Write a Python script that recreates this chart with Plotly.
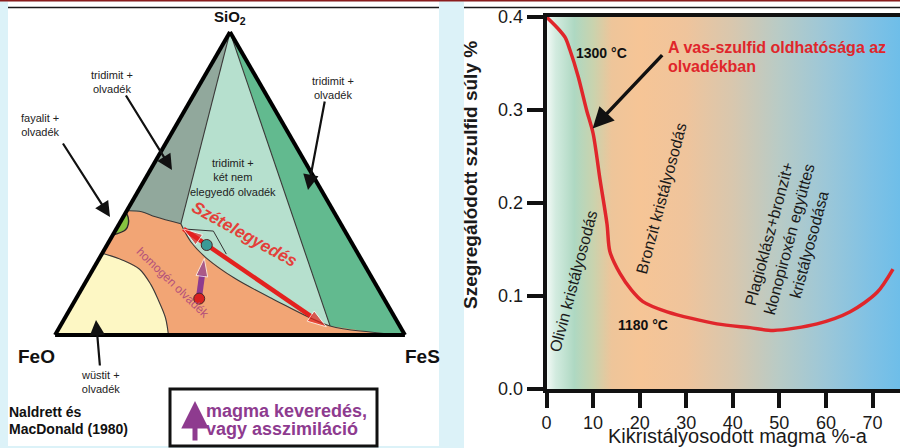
import plotly.graph_objects as go

W, H = 900, 448
FONT = "Liberation Sans, Arial, sans-serif"

# ---------------- Ternary diagram data (SiO2, FeO, FeS in %) ----------------
solvus_sio2 = [36.7, 30.7, 25.3, 18.7, 12.0, 3.0, 1.0, 0.0]
solvus_feo = [45.7, 45.8, 44.0, 39.3, 31.9, 19.9, 9.4, 0.8]
solvus_fes = [17.6, 23.5, 30.7, 42.0, 56.1, 77.1, 89.6, 99.2]
SPLIT = 5  # solvus point where the tridimit (right) field boundary ends

gray_sio2 = [41.0, 40.7, 39.0, 36.7]
gray_feo = [59.0, 54.9, 51.8, 45.7]
gray_fes = [0.0, 4.4, 9.2, 17.6]

yellow_sio2 = [27.0, 24.7, 21.7, 16.7, 11.7, 5.7, 0.0]
yellow_feo = [73.0, 68.3, 65.0, 64.3, 64.7, 65.6, 67.6]
yellow_fes = [0.0, 7.0, 13.3, 19.0, 23.6, 28.7, 32.4]

lens_sio2 = [40.5, 38.8, 36.7, 34.7, 33.0]
lens_feo = [59.5, 59.7, 60.7, 62.5, 67.0]
lens_fes = [0.0, 1.5, 2.6, 2.8, 0.0]

tie_sio2 = [35.0, 34.3, 26.7]
tie_feo = [45.8, 37.6, 37.7]
tie_fes = [19.2, 28.1, 35.6]

sep_sio2 = [35.0, 2.7]          # "Szételegyedés" double arrow
sep_feo = [45.8, 21.1]
sep_fes = [19.2, 76.2]

mix_sio2 = [13.3, 25.3]          # magma mixing arrow
mix_feo = [52.1, 44.7]
mix_fes = [34.6, 30.0]

dot_sio2 = [29.7, 12.0]
dot_feo = [41.8, 52.8]
dot_fes = [28.5, 35.2]
dot_colors = ["#3a9b97", "#d92220"]

# ---------------- Sulfide solubility curve ----------------
curve_x = [0, 2.2, 4.0, 5.0, 6.8, 8.6, 10.0, 11.5, 13.0, 13.6, 15.8, 18.3, 20.7,
           25.9, 36.6, 43.7, 48.7, 58.1, 65.2, 71.0, 74.4]
curve_y = [0.400, 0.389, 0.378, 0.365, 0.336, 0.300, 0.275, 0.225, 0.177, 0.148,
           0.124, 0.106, 0.094, 0.083, 0.070, 0.066, 0.063, 0.070, 0.083, 0.104, 0.129]
x_ticks = [0, 10, 20, 30, 40, 50, 60, 70]
y_ticks = [0.0, 0.1, 0.2, 0.3, 0.4]
y_ticktext = ["0.0", "0.1", "0.2", "0.3", "0.4"]
X_MAX, Y_MAX = 75.9, 0.4

grad_x = [0, 2, 6, 10, 14, 20, 30, 40, 50, 60, 70, 75.9]
grad_c = ["#f4faf7", "#d2ebdf", "#aed8c2", "#c9d3ae", "#eec59a", "#f6c596",
          "#efc49c", "#d8c7ae", "#b8cbc6", "#9cc7d8", "#7ec1e5", "#6ebee9"]

fig = go.Figure()

# ---------------- ternary fields ----------------
def tern(a, b, c, **kw):
    fig.add_trace(go.Scatterternary(a=a, b=b, c=c, subplot="ternary",
                                    hoverinfo="skip", showlegend=False, **kw))

def field(a, b, c, color):
    tern(a, b, c, mode="lines", fill="toself", fillcolor=color,
         line=dict(width=0, color=color))

field([100] + solvus_sio2[:SPLIT + 1] + [100], [0] + solvus_feo[:SPLIT + 1] + [0],
      [0] + solvus_fes[:SPLIT + 1] + [0], "#b6e0ce")
field([100, 0] + solvus_sio2[SPLIT:][::-1] + [100], [0, 0] + solvus_feo[SPLIT:][::-1] + [0],
      [0, 100] + solvus_fes[SPLIT:][::-1] + [0], "#62ba8f")
field([100] + gray_sio2 + [100], [0] + gray_feo + [0], [0] + gray_fes + [0], "#91a89c")
field([0] + yellow_sio2 + [0], [100] + yellow_feo + [100], [0] + yellow_fes + [0], "#fdf7c4")
field(lens_sio2 + lens_sio2[:1], lens_feo + lens_feo[:1], lens_fes + lens_fes[:1], "#86c440")

edge = dict(color="#3a3a3a", width=1.1)
tern(solvus_sio2, solvus_feo, solvus_fes, mode="lines", line=dict(edge, shape="spline"))
tern(gray_sio2, gray_feo, gray_fes, mode="lines", line=dict(edge, shape="spline"))
tern(yellow_sio2, yellow_feo, yellow_fes, mode="lines", line=dict(edge, shape="spline"))
tern(lens_sio2, lens_feo, lens_fes, mode="lines", line=dict(color="#2a2a2a", width=1.4, shape="spline"))
tern([100, gray_sio2[-1]], [0, gray_feo[-1]], [0, gray_fes[-1]], mode="lines", line=edge)
tern([100, solvus_sio2[SPLIT]], [0, solvus_feo[SPLIT]], [0, solvus_fes[SPLIT]], mode="lines", line=edge)
tern(tie_sio2, tie_feo, tie_fes, mode="lines", line=dict(color="#333", width=1))

# red separation double arrow
tern(sep_sio2, sep_feo, sep_fes, mode="lines+markers", line=dict(color="#e3221f", width=4.5),
     marker=dict(symbol="arrow", size=[0, 20], color="#e3221f", angleref="previous"))
tern(sep_sio2[::-1], sep_feo[::-1], sep_fes[::-1], mode="markers",
     marker=dict(symbol="arrow", size=[0, 20], color="#e3221f", angleref="previous"))
# purple mixing arrow
tern(mix_sio2, mix_feo, mix_fes, mode="lines+markers", line=dict(color="#8e3b8f", width=6),
     marker=dict(symbol="arrow", size=[0, 19], color="#8e3b8f", angleref="previous"))
tern(dot_sio2, dot_feo, dot_fes, mode="markers",
     marker=dict(size=11, color=dot_colors, line=dict(color="#4a2a2a", width=1)))

axis_style = dict(showticklabels=False, showgrid=False, ticks="", linewidth=4,
                  linecolor="black", title=dict(text=""))

# ---------------- right chart ----------------
fig.add_trace(go.Scatter(x=[0, X_MAX, X_MAX, 0, 0], y=[0, 0, Y_MAX, Y_MAX, 0], mode="lines",
                         fill="toself", line=dict(width=0),
                         fillgradient=dict(type="horizontal",
                                           colorscale=[[gx / X_MAX, c] for gx, c in zip(grad_x, grad_c)]),
                         hoverinfo="skip", showlegend=False))
fig.add_trace(go.Scatter(x=curve_x, y=curve_y, mode="lines",
                         line=dict(color="#e0262b", width=3.5, shape="spline", smoothing=0.8),
                         hoverinfo="skip", showlegend=False))

def P(xp, yp):
    return xp / W, 1 - yp / H

shapes = []
def rect(x0, y0, x1, y1, fill, line_color=None, lw=0, layer="below"):
    a0, b1 = P(x0, y0)
    a1, b0 = P(x1, y1)
    shapes.append(dict(type="rect", xref="paper", yref="paper", x0=a0, x1=a1, y0=b0, y1=b1,
                       fillcolor=fill, line=dict(width=lw, color=line_color or fill), layer=layer))

def hline(x0, x1, y, color, lw):
    a0, b = P(x0, y)
    a1, _ = P(x1, y)
    shapes.append(dict(type="line", xref="paper", yref="paper", x0=a0, x1=a1, y0=b, y1=b,
                       line=dict(color=color, width=lw), layer="below"))

rect(8, 1.5, 439, 446, "white")
rect(464, 1.5, 900, 448, "white")
rect(0, 0, 900, 1.6, "#8a1c1c")
hline(8, 439, 7.5, "#1a1a1a", 1.6)
hline(464, 900, 7.5, "#1a1a1a", 1.6)
rect(170, 389, 377, 446, "white", "#111", 3, layer="above")

ann = []
def text(xp, yp, t, size, color="#222", bold=False, angle=0, xanchor="center", italic=False,
         yanchor="middle"):
    x, y = P(xp, yp)
    if bold:
        t = "<b>" + t + "</b>"
    if italic:
        t = "<i>" + t + "</i>"
    ann.append(dict(x=x, y=y, xref="paper", yref="paper", text=t, showarrow=False,
                    font=dict(family=FONT, size=size, color=color), textangle=angle,
                    xanchor=xanchor, yanchor=yanchor, align="center", borderpad=0))

def arrow(x_tip, y_tip, x_tail, y_tail, color="#111", width=2.2, size=1.4):
    x, y = P(x_tip, y_tip)
    ann.append(dict(x=x, y=y, xref="paper", yref="paper", text="", showarrow=True,
                    ax=x_tail - x_tip, ay=y_tail - y_tip, arrowhead=2, arrowsize=size,
                    arrowwidth=width, arrowcolor=color, standoff=0))

# left panel text
text(230, 18, "SiO<sub>2</sub>", 15, "#111", bold=True)
text(36, 356, "FeO", 19, "#111", bold=True)
text(422, 356, "FeS", 19, "#111", bold=True)
text(112, 82, "tridimit +<br>olvadék", 11)
text(333, 88, "tridimit +<br>olvadék", 11)
text(40, 125, "fayalit +<br>olvadék", 11)
text(233, 177, "tridimit +<br>két nem<br>elegyedő olvadék", 11)
text(100, 382, "wüstit +<br>olvadék", 11)
text(8, 412, "Naldrett és", 14, "#111", bold=True, xanchor="left")
text(8, 429, "MacDonald (1980)", 14, "#111", bold=True, xanchor="left")
text(205, 411, "magma keveredés,", 18, "#8e3b8f", bold=True, xanchor="left")
text(205, 429, "vagy asszimiláció", 18, "#8e3b8f", bold=True, xanchor="left")
text(245, 234, "Szételegyedés", 17, "#e3403a", bold=True, italic=True, angle=29)
text(173, 283, "homogén olvadék", 12, "#b5527a", angle=44)
arrow(172, 170, 125, 94)
arrow(308, 190, 325, 100)
arrow(110, 217, 62, 142)
arrow(96, 320, 100, 367)
arrow(195, 401, 195, 442, color="#8e3b8f", width=5, size=1.1)

# right panel text
text(601, 53, "1300 °C", 14, "#111", bold=True)
text(643, 325, "1180 °C", 14, "#111", bold=True)
text(667, 47, "A vas-szulfid oldhatósága az", 16, "#e0262b", bold=True, xanchor="left")
text(667, 66, "olvadékban", 16, "#e0262b", bold=True, xanchor="left")
text(573, 281, "Olivin kristályosodás", 16, "#1a1a1a", angle=-75)
text(661, 198, "Bronzit kristályosodás", 16, "#1a1a1a", angle=-75)
text(789, 239, "Plagioklász+bronzit+<br>klonopiroxén együttes<br>kristályosodása", 16, "#1a1a1a", angle=-75)
text(470, 175, "Szegregálódott szulfid súly %", 19, "#1a1a1a", bold=True, angle=-90)
text(738, 447.5, "Kikristályosodott magma %-a", 20, "#1a1a1a", yanchor="bottom")

ann.append(dict(x=9.9, y=0.28, xref="x", yref="y", text="", showarrow=True,
                ax=71, ay=-75, arrowhead=2, arrowsize=1.2, arrowwidth=3.5,
                arrowcolor="#111", standoff=0))

fig.update_layout(
    width=W, height=H, margin=dict(l=0, r=0, t=0, b=0, pad=0), autosize=False,
    paper_bgcolor="#dcf2f8", plot_bgcolor="rgba(0,0,0,0)", showlegend=False,
    hovermode=False, font=dict(family=FONT),
    ternary=dict(domain=dict(x=[55 / W, 405 / W], y=[113 / H, 416 / H]), sum=100,
                 bgcolor="#f2a575", aaxis=axis_style, baxis=axis_style, caxis=axis_style),
    xaxis=dict(domain=[546.5 / W, 1.0], range=[0, X_MAX], tickvals=x_ticks,
               showline=True, linewidth=3.5, linecolor="#111", mirror=True,
               ticks="outside", ticklen=15, tickwidth=3.5, tickcolor="#111",
               tickfont=dict(size=18, color="#1a1a1a", family=FONT), automargin=False,
               showgrid=False, zeroline=False, fixedrange=True),
    yaxis=dict(domain=[59 / H, 431 / H], range=[0, Y_MAX], tickvals=y_ticks, ticktext=y_ticktext,
               showline=True, linewidth=3.5, linecolor="#111", automargin=False,
               ticks="outside", ticklen=16, tickwidth=3.5, tickcolor="#111",
               tickfont=dict(size=18, color="#1a1a1a", family=FONT),
               showgrid=False, zeroline=False, fixedrange=True),
    shapes=shapes, annotations=ann,
)

fig.write_html("out.html", config={"displayModeBar": False},
               post_script="document.body.style.margin='0px';document.body.style.overflow='hidden';")
